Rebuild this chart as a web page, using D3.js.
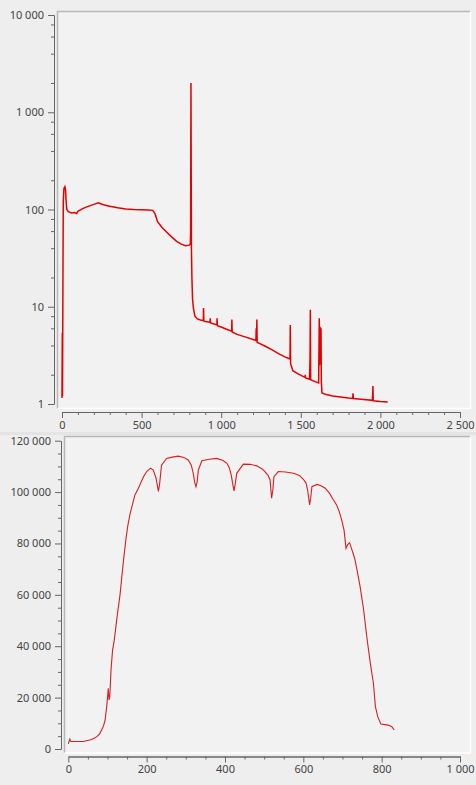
<!DOCTYPE html>
<html>
<head>
<meta charset="utf-8">
<script src="https://d3js.org/d3.v7.min.js"></script>
<style>
  body { margin: 0; background: #eeeeee; }
  svg { display: block; }
  .tick text { font-family: "Noto Sans", sans-serif; font-size: 11px; fill: #444; }
</style>
</head>
<body>
<div id="chart"></div>
<script>
// spectrum (top, log scale): channel / counts
var specChannel = [0, 2, 3, 4, 6, 8, 12, 18, 22, 26, 30, 40, 60, 80, 92, 100, 130, 160, 200, 228,
  260, 300, 350, 400, 450, 500, 540, 570, 585, 600, 630, 660, 690, 720, 750, 775, 800, 806, 808, 810,
  811, 813, 816, 820, 826, 835, 850, 870, 888, 889, 891, 910, 930, 931, 933, 960, 973, 974, 976, 1000,
  1030, 1066, 1067, 1069, 1100, 1150, 1200, 1218, 1220, 1222, 1224, 1226, 1240, 1280, 1320, 1360, 1400, 1432, 1434, 1436,
  1450, 1480, 1520, 1527, 1528, 1530, 1555, 1558, 1560, 1562, 1590, 1612, 1614, 1616, 1618, 1620, 1624, 1627, 1629, 1633,
  1660, 1700, 1750, 1800, 1826, 1828, 1830, 1880, 1950, 1953, 1955, 2000, 2046];
var specCounts = [1.15, 5.4, 1.2, 3, 20, 120, 165, 172, 160, 120, 100, 95, 92, 93, 91, 96, 102, 107, 113, 117,
  112, 108, 104, 101, 100, 99.5, 99, 98, 90, 75, 65, 58, 52, 47, 44, 42.5, 43, 44, 60, 2000,
  560, 40, 20, 12, 9.5, 8, 7.5, 7.3, 7.2, 9.7, 7.1, 7.0, 6.9, 7.6, 6.8, 6.6, 6.5, 7.6, 6.4, 6.2,
  5.9, 5.6, 7.4, 5.5, 5.2, 4.9, 4.6, 4.5, 6.0, 4.5, 7.4, 4.3, 4.2, 3.9, 3.6, 3.3, 3.05, 2.9, 6.5, 2.6,
  2.2, 2.05, 1.9, 1.88, 2.0, 1.85, 1.8, 3, 9.3, 1.78, 1.7, 1.65, 3.5, 7.6, 2.5, 3.0, 6, 5.9, 1.7, 1.3,
  1.25, 1.21, 1.18, 1.15, 1.14, 1.29, 1.14, 1.12, 1.09, 1.53, 1.08, 1.06, 1.05];
var topXTicks = [0, 500, 1000, 1500, 2000, 2500];
var topYTicks = [1, 10, 100, 1000, 10000];

// profile (bottom, linear scale): position / intensity
var profX = [0, 4, 6, 10, 20, 38, 55, 65, 73, 80, 85, 90, 94, 98, 101, 102, 104, 106, 109, 113,
  117, 125, 132, 141, 147, 152, 158, 170, 179, 192, 200, 210, 217, 224, 228, 230, 233, 238, 251, 265, 281,
  295, 306, 314, 319, 323, 326, 329, 332, 341, 360, 379, 395, 405, 411, 416, 420, 423, 426, 430, 447,
  465, 481, 495, 502, 510, 515, 519, 522, 525, 536, 555, 575, 590, 600, 607, 611, 616, 619, 622, 635,
  645, 656, 667, 677, 685, 692, 698, 704, 709, 713, 718, 722, 727, 732, 737, 745, 754, 762, 771, 779,
  784, 790, 798, 808, 817, 826, 832];
var profY = [2000, 3800, 3000, 2900, 2900, 2900, 3500, 4100, 4800, 5900, 7400, 9000, 11300, 16500, 21500, 23600, 19100, 20500, 30700, 38500,
  42000, 52000, 60000, 73500, 81500, 87000, 91700, 98900, 101500, 106000, 108000, 109300, 108600, 105400, 102000, 100300, 103000, 110500, 113100, 113600, 114000,
  113500, 112500, 110500, 107300, 103500, 102100, 104000, 108600, 112200, 112800, 113100, 112300, 111200, 109500, 106600, 103000, 100500, 103000, 107300, 110900,
  110800, 110200, 109000, 108000, 106500, 104700, 97600, 100500, 106000, 108000, 107800, 107300, 106500, 105000, 103500, 100800, 95000, 98000, 102100, 103000,
  102500, 101500, 99500, 96900, 95000, 92300, 89100, 85200, 78100, 79500, 80300, 78500, 76200, 73600, 69700, 63200, 54100, 43700, 33400, 25600,
  16500, 12600, 9700, 9500, 9300, 8700, 7400];
var botXTicks = [0, 200, 400, 600, 800, 1000];
var botYTicks = [0, 20000, 40000, 60000, 80000, 100000, 120000];

var W = 476, H = 785;
var svg = d3.select("#chart").append("svg").attr("width", W).attr("height", H);

var loc = d3.formatLocale({ decimal: ".", thousands: " ", grouping: [3], currency: ["", ""] });
var fmt = loc.format(",d");

// splitter between the two plots
svg.append("rect").attr("x", 0).attr("y", 432).attr("width", W).attr("height", 3).attr("fill", "#e4e4e4");

function panel(x0, y0, x1, y1) {
  svg.append("rect").attr("x", x0).attr("y", y0).attr("width", x1 - x0).attr("height", y1 - y0)
    .attr("fill", "#f2f2f2");
  svg.append("path").attr("d", "M" + x0 + "," + y1 + "V" + y0 + "H" + x1)
    .attr("fill", "none").attr("stroke", "#b8b8b8").attr("stroke-width", 1.5);
  svg.append("path").attr("d", "M" + x0 + "," + y1 + "H" + x1 + "V" + y0)
    .attr("fill", "none").attr("stroke", "#ffffff").attr("stroke-width", 1.5);
}

function styleAxis(g) {
  g.select(".domain").attr("stroke", "#666");
  g.selectAll(".tick line").attr("stroke", "#666");
}

// ---------- top plot ----------
panel(57.5, 11.5, 470.5, 408.5);
var x1 = d3.scaleLinear().domain([0, 2500]).range([62, 460]);
var y1 = d3.scaleLog().domain([1, 10000]).range([404, 15]);

var topMinorY = [];
[1, 10, 100, 1000].forEach(function (d) { [2, 4, 6, 8].forEach(function (m) { topMinorY.push(d * m); }); });
var topMinorX = d3.range(0, 2501, 100).filter(function (d) { return d % 500 != 0; });

svg.append("g").attr("transform", "translate(54,0)")
  .call(d3.axisLeft(y1).tickValues(topMinorY).tickSize(3).tickSizeOuter(0).tickFormat(""))
  .call(styleAxis);
svg.append("g").attr("transform", "translate(54,0)")
  .call(d3.axisLeft(y1).tickValues(topYTicks).tickSize(6).tickSizeOuter(0).tickPadding(4).tickFormat(fmt))
  .call(styleAxis);
svg.append("g").attr("transform", "translate(0,412)")
  .call(d3.axisBottom(x1).tickValues(topMinorX).tickSize(3).tickSizeOuter(0).tickFormat(""))
  .call(styleAxis);
svg.append("g").attr("transform", "translate(0,412)")
  .call(d3.axisBottom(x1).tickValues(topXTicks).tickSize(6).tickSizeOuter(0).tickPadding(3).tickFormat(fmt))
  .call(styleAxis);

svg.append("clipPath").attr("id", "clipTop").append("rect")
  .attr("x", 58).attr("y", 12).attr("width", 412).attr("height", 396);
var specLine = d3.line().x(function (d, i) { return x1(specChannel[i]); }).y(function (d) { return y1(d); });
svg.append("path").datum(specCounts).attr("clip-path", "url(#clipTop)")
  .attr("d", specLine).attr("fill", "none").attr("stroke", "#e50000").attr("stroke-width", 1.5);

// ---------- bottom plot ----------
panel(64.5, 436.5, 470.5, 753);
var x2 = d3.scaleLinear().domain([0, 1000]).range([68.3, 460]);
var y2 = d3.scaleLinear().domain([0, 120000]).range([749, 440.7]);

var botMinorY = d3.range(0, 120001, 5000).filter(function (d) { return d % 20000 != 0; });
var botMinorX = d3.range(0, 1001, 50).filter(function (d) { return d % 200 != 0; });

svg.append("g").attr("transform", "translate(61,0)")
  .call(d3.axisLeft(y2).tickValues(botMinorY).tickSize(3).tickSizeOuter(0).tickFormat(""))
  .call(styleAxis);
svg.append("g").attr("transform", "translate(61,0)")
  .call(d3.axisLeft(y2).tickValues(botYTicks).tickSize(6).tickSizeOuter(0).tickPadding(4).tickFormat(fmt))
  .call(styleAxis);
svg.append("g").attr("transform", "translate(0,756.5)")
  .call(d3.axisBottom(x2).tickValues(botMinorX).tickSize(3).tickSizeOuter(0).tickFormat(""))
  .call(styleAxis);
svg.append("g").attr("transform", "translate(0,756.5)")
  .call(d3.axisBottom(x2).tickValues(botXTicks).tickSize(6).tickSizeOuter(0).tickPadding(3).tickFormat(fmt))
  .call(styleAxis);

var profLine = d3.line().x(function (d, i) { return x2(profX[i]); }).y(function (d) { return y2(d); });
svg.append("path").datum(profY)
  .attr("d", profLine).attr("fill", "none").attr("stroke", "#d81e1e").attr("stroke-width", 1.1);
</script>
</body>
</html>
